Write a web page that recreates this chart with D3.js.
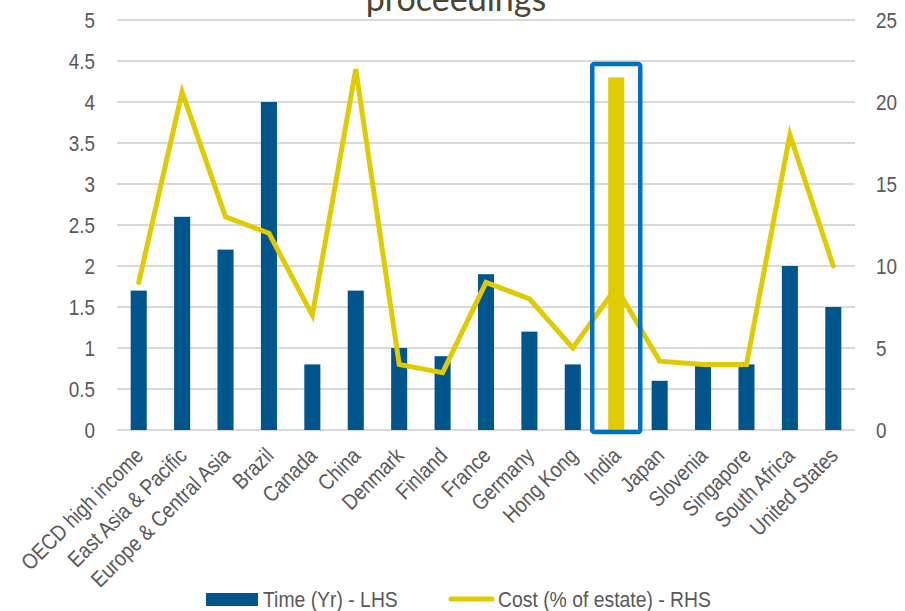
<!DOCTYPE html>
<html>
<head>
<meta charset="utf-8">
<script src="https://cdn.jsdelivr.net/npm/d3@7"></script>
<style>
  body { margin: 0; background: #fff; }
  text { font-family: "Liberation Sans Narrow", "Arial Narrow", "Liberation Sans", sans-serif; fill: #595959; }
</style>
</head>
<body>
<script>
// chart data
var categories = ["OECD high income", "East Asia & Pacific", "Europe & Central Asia", "Brazil", "Canada",
  "China", "Denmark", "Finland", "France", "Germany", "Hong Kong", "India", "Japan", "Slovenia",
  "Singapore", "South Africa", "United States"];
var timeYears = [1.7, 2.6, 2.2, 4.0, 0.8, 1.7, 1.0, 0.9, 1.9, 1.2, 0.8, 4.3, 0.6, 0.8, 0.8, 2.0, 1.5];
var costPct = [9, 20.6, 13, 12, 7, 22, 4, 3.5, 9, 8, 5, 8.7, 4.2, 4, 4, 18, 10];
var leftTicks = [0, 0.5, 1, 1.5, 2, 2.5, 3, 3.5, 4, 4.5, 5];
var rightTicks = [0, 5, 10, 15, 20, 25];
var highlight = "India";

var width = 905, height = 611;
var margin = {left: 117, right: 50, top: 20, bottom: 181};
var narrow = "scale(0.86,1)"; //fake a condensed font

var svg = d3.select("body").append("svg")
    .attr("width", width)
    .attr("height", height);

var x = d3.scaleBand()
    .domain(categories)
    .range([margin.left, width - margin.right])
    .paddingInner(0.63)
    .paddingOuter(0.315);

var yL = d3.scaleLinear().domain([0, 5]).range([height - margin.bottom, margin.top]);
var yR = d3.scaleLinear().domain([0, 25]).range([height - margin.bottom, margin.top]);

//gridlines
svg.append("g")
    .selectAll("line")
    .data(leftTicks)
    .enter()
    .append("line")
    .attr("x1", margin.left)
    .attr("x2", width - margin.right)
    .attr("y1", function(d){ return yL(d); })
    .attr("y2", function(d){ return yL(d); })
    .attr("stroke", "#d9d9d9")
    .attr("stroke-width", 2);

//left axis labels
var leftAxis = svg.append("g")
    .attr("transform", "translate(" + (margin.left - 22) + ",0)")
    .call(d3.axisLeft(yL).tickValues(leftTicks).tickSize(0).tickPadding(0).tickFormat(d3.format("")));
leftAxis.select(".domain").remove();
leftAxis.selectAll("text")
    .style("font-size", "22px")
    .attr("fill", "#595959")
    .attr("transform", narrow);

//right axis labels
var rightAxis = svg.append("g")
    .attr("transform", "translate(" + (width - margin.right + 21) + ",0)")
    .call(d3.axisRight(yR).tickValues(rightTicks).tickSize(0).tickPadding(0));
rightAxis.select(".domain").remove();
rightAxis.selectAll("text")
    .style("font-size", "22px")
    .attr("fill", "#595959")
    .attr("transform", narrow);

//bars
svg.append("g")
    .selectAll("rect")
    .data(categories)
    .enter()
    .append("rect")
    .attr("x", function(d){ return x(d); })
    .attr("width", x.bandwidth())
    .attr("y", function(d, i){ return yL(timeYears[i]); })
    .attr("height", function(d, i){ return yL(0) - yL(timeYears[i]); })
    .attr("fill", function(d){ return d == highlight ? "#e0cb00" : "#00558c"; });

//cost line
var line = d3.line()
    .x(function(d, i){ return x(categories[i]) + x.bandwidth() / 2; })
    .y(function(d){ return yR(d); });

svg.append("path")
    .datum(costPct)
    .attr("d", line)
    .attr("fill", "none")
    .attr("stroke", "#e0cb00")
    .attr("stroke-width", 5)
    .attr("stroke-linejoin", "miter")
    .attr("stroke-linecap", "round");

//highlight box around India
var hx = x(highlight) + x.bandwidth() / 2;
svg.append("rect")
    .attr("x", hx - 24)
    .attr("y", yL(4.5) + 3)
    .attr("width", 48)
    .attr("height", yL(0) - yL(4.5) - 1)
    .attr("rx", 2)
    .attr("fill", "none")
    .attr("stroke", "#0070c0")
    .attr("stroke-width", 4.5);

//category labels
svg.append("g")
    .selectAll("text")
    .data(categories)
    .enter()
    .append("text")
    .attr("transform", function(d){
        return "translate(" + (x(d) + x.bandwidth() / 2 + 6) + "," + (yL(0) + 27) + ") rotate(-45) " + narrow;
    })
    .attr("text-anchor", "end")
    .style("font-size", "22px")
    .text(function(d){ return d; });

//title (cut off at top)
svg.append("text")
    .attr("x", 456)
    .attr("y", 11)
    .attr("text-anchor", "middle")
    .style("font-family", "Lato, 'Open Sans', sans-serif")
    .style("font-size", "34px")
    .style("fill", "#4b4630")
    .text("proceedings");

//legend
var legend = svg.append("g");
legend.append("rect")
    .attr("x", 206).attr("y", 593)
    .attr("width", 52).attr("height", 13)
    .attr("fill", "#00558c");
legend.append("text")
    .attr("transform", "translate(263,607) scale(0.88,1)")
    .style("font-size", "22px")
    .text("Time (Yr) - LHS");
legend.append("line")
    .attr("x1", 451).attr("x2", 492)
    .attr("y1", 599).attr("y2", 599)
    .attr("stroke", "#e0cb00")
    .attr("stroke-width", 5)
    .attr("stroke-linecap", "round");
legend.append("text")
    .attr("transform", "translate(498,607) scale(0.88,1)")
    .style("font-size", "22px")
    .text("Cost (% of estate) - RHS");
</script>
</body>
</html>
